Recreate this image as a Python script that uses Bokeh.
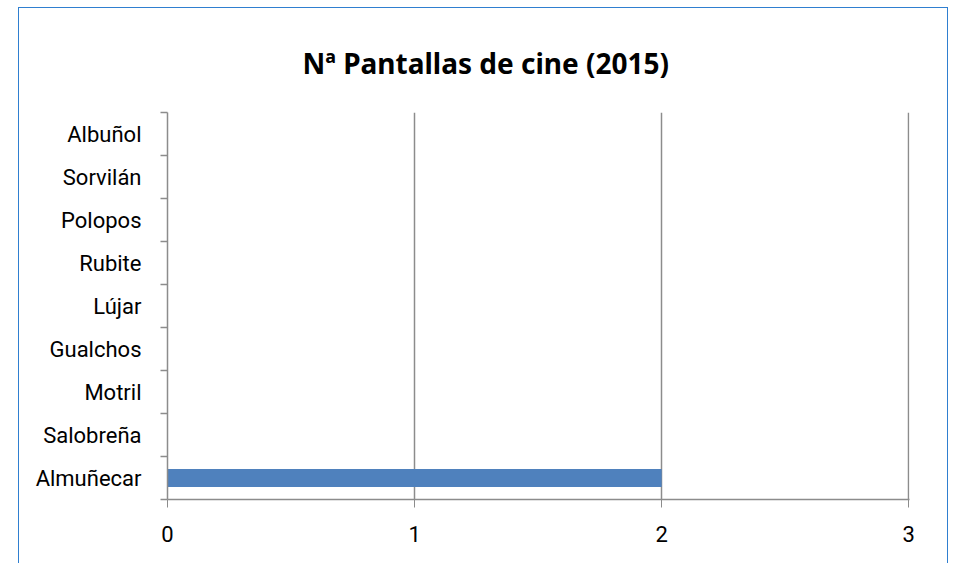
from bokeh.plotting import figure
from bokeh.models import FixedTicker, Range1d, ColumnDataSource
from bokeh.embed import file_html
from bokeh.resources import INLINE

categories = ["Almuñecar", "Salobreña", "Motril", "Gualchos", "Lújar",
              "Rubite", "Polopos", "Sorvilán", "Albuñol"]
values = [2, 0, 0, 0, 0, 0, 0, 0, 0]
x_ticks = [0, 1, 2, 3]
title_text = "Nª Pantallas de cine (2015)"

n = len(categories)
centers = [i + 0.5 for i in range(n)]
src = ColumnDataSource(dict(y=centers, v=values, cat=categories))

FONT = "Roboto"
TFONT = "Noto Sans"
GRID = "#8c8c8c"

p = figure(width=930, height=558, output_backend="svg", toolbar_location=None,
           x_range=Range1d(0, 3.003), y_range=Range1d(0, n),
           title=title_text, min_border_left=148, min_border_right=40,
           min_border_top=104, min_border_bottom=67)
p.styles = {"position": "absolute", "left": "18px", "top": "7px",
            "border": "1px solid #2f7fd0"}

p.hbar(y="y", right="v", left=0, height=0.42, source=src,
       fill_color="#4f81bd", line_color=None)

p.title.align = "left"
p.title.offset = 135
p.title.standoff = 62
p.title.text_font = TFONT
p.title.text_font_size = "28px"
p.title.text_font_style = "bold"
p.title.text_color = "#000000"

p.outline_line_color = None
p.background_fill_color = "white"
p.border_fill_color = "white"

# x axis
p.xaxis.ticker = FixedTicker(ticks=x_ticks)
p.xaxis.major_tick_out = 8
p.xaxis.major_tick_in = 0
p.xaxis.minor_tick_out = 0
p.xaxis.axis_line_color = GRID
p.xaxis.major_tick_line_color = GRID
p.xaxis.axis_line_width = 1.5
p.xaxis.major_label_text_font = FONT
p.xaxis.major_label_text_font_size = "22px"
p.xaxis.major_label_text_color = "#000000"
p.xaxis.major_label_standoff = 18

# y axis
p.yaxis.ticker = FixedTicker(ticks=centers, minor_ticks=list(range(n + 1)))
p.yaxis.major_label_overrides = {c: lab for c, lab in zip(centers, categories)}
p.yaxis.major_tick_out = 0
p.yaxis.major_tick_in = 0
p.yaxis.minor_tick_out = 7
p.yaxis.minor_tick_in = 0
p.yaxis.minor_tick_line_color = GRID
p.yaxis.minor_tick_line_width = 1.5
p.yaxis.axis_line_color = GRID
p.yaxis.axis_line_width = 1.5
p.yaxis.major_label_text_font = FONT
p.yaxis.major_label_text_font_size = "22px"
p.yaxis.major_label_text_color = "#000000"
p.yaxis.major_label_standoff = 19

p.xgrid.ticker = FixedTicker(ticks=x_ticks)
p.xgrid.grid_line_color = GRID
p.xgrid.grid_line_width = 1.5
p.ygrid.grid_line_color = None

open("out.html", "w").write(file_html(p, INLINE))
